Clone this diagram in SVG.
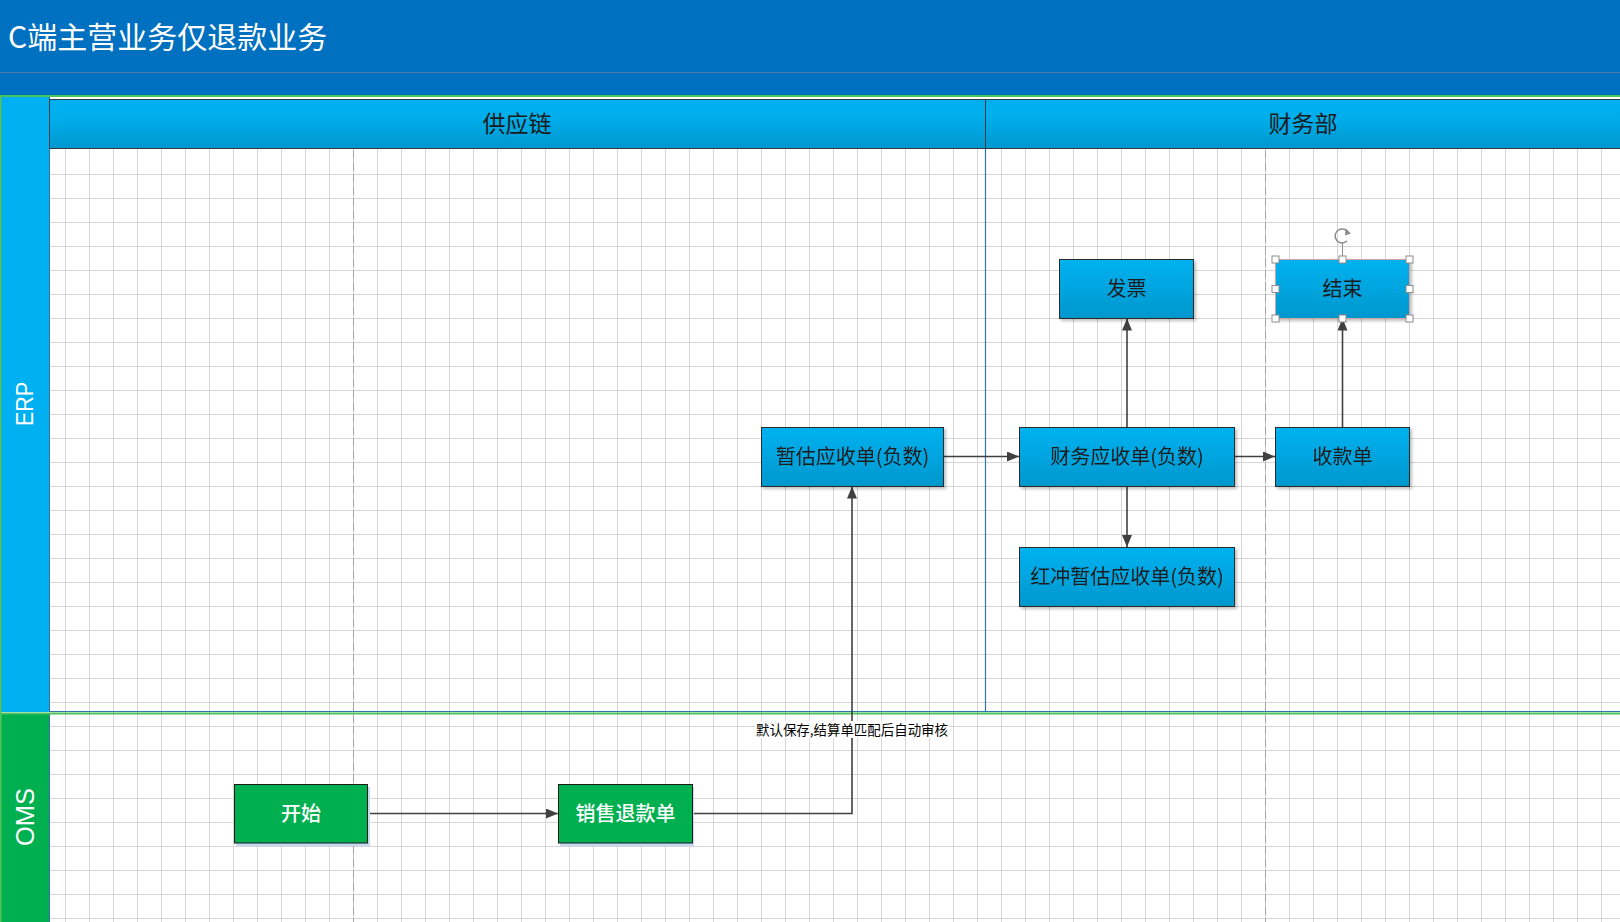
<svg xmlns="http://www.w3.org/2000/svg" width="1620" height="922" viewBox="0 0 1620 922">
<defs>
<style>
.cjk{font-family:"Noto Sans CJK SC","Liberation Sans",sans-serif;}
.lat{font-family:"Liberation Sans","Noto Sans",sans-serif;}
.nodeb{fill:url(#gBlue);stroke:#2b2b2b;stroke-width:1;}
.nodeg{fill:#00B050;stroke:#1a1a1a;stroke-width:1;}
.tb{font-size:20px;fill:#1a1a1a;text-anchor:middle;}
.tg{font-size:20px;fill:#ffffff;text-anchor:middle;font-weight:500;}
.hdr{font-size:23px;fill:#1a1a1a;text-anchor:middle;}
.conn{fill:none;stroke:#404040;stroke-width:1.6;}
.dash{stroke:#a6a6a6;stroke-width:1;stroke-dasharray:9 3;}
.hdl{fill:#ffffff;stroke:#8c8c8c;stroke-width:1;}
.grid{fill:none;stroke:#d6d6d6;stroke-width:1;}
</style>
<linearGradient id="gBlue" x1="0" y1="0" x2="0" y2="1">
<stop offset="0" stop-color="#00B2F0"/>
<stop offset="1" stop-color="#0097CD"/>
</linearGradient>
<linearGradient id="gHdr" x1="0" y1="0" x2="0" y2="1">
<stop offset="0" stop-color="#00B0EE"/>
<stop offset="0.35" stop-color="#00AEEC"/>
<stop offset="1" stop-color="#0098CE"/>
</linearGradient>
<filter id="sh" x="-10%" y="-10%" width="130%" height="140%">
<feDropShadow dx="2" dy="2" stdDeviation="1.5" flood-color="#000000" flood-opacity="0.25"/>
</filter>
<marker id="arr" markerUnits="userSpaceOnUse" markerWidth="12" markerHeight="10" refX="12" refY="5" orient="auto">
<path d="M0,0 L12,5 L0,10 Z" fill="#404040"/>
</marker>
</defs>

<!-- background & grid -->
<rect x="0" y="0" width="1620" height="922" fill="#ffffff"/>
<path class="grid" d="M65.5 149 V922 M89.5 149 V922 M113.5 149 V922 M137.5 149 V922 M161.5 149 V922 M185.5 149 V922 M209.5 149 V922 M233.5 149 V922 M257.5 149 V922 M281.5 149 V922 M305.5 149 V922 M329.5 149 V922 M353.5 149 V922 M377.5 149 V922 M401.5 149 V922 M425.5 149 V922 M449.5 149 V922 M473.5 149 V922 M497.5 149 V922 M521.5 149 V922 M545.5 149 V922 M569.5 149 V922 M593.5 149 V922 M617.5 149 V922 M641.5 149 V922 M665.5 149 V922 M689.5 149 V922 M713.5 149 V922 M737.5 149 V922 M761.5 149 V922 M785.5 149 V922 M809.5 149 V922 M833.5 149 V922 M857.5 149 V922 M881.5 149 V922 M905.5 149 V922 M929.5 149 V922 M953.5 149 V922 M977.5 149 V922 M1001.5 149 V922 M1025.5 149 V922 M1049.5 149 V922 M1073.5 149 V922 M1097.5 149 V922 M1121.5 149 V922 M1145.5 149 V922 M1169.5 149 V922 M1193.5 149 V922 M1217.5 149 V922 M1241.5 149 V922 M1265.5 149 V922 M1289.5 149 V922 M1313.5 149 V922 M1337.5 149 V922 M1361.5 149 V922 M1385.5 149 V922 M1409.5 149 V922 M1433.5 149 V922 M1457.5 149 V922 M1481.5 149 V922 M1505.5 149 V922 M1529.5 149 V922 M1553.5 149 V922 M1577.5 149 V922 M1601.5 149 V922"/>
<path class="grid" d="M49 174.5 H1620 M49 198.5 H1620 M49 222.5 H1620 M49 246.5 H1620 M49 270.5 H1620 M49 294.5 H1620 M49 318.5 H1620 M49 342.5 H1620 M49 366.5 H1620 M49 390.5 H1620 M49 414.5 H1620 M49 438.5 H1620 M49 462.5 H1620 M49 486.5 H1620 M49 510.5 H1620 M49 534.5 H1620 M49 558.5 H1620 M49 582.5 H1620 M49 606.5 H1620 M49 630.5 H1620 M49 654.5 H1620 M49 678.5 H1620 M49 702.5 H1620 M49 726.5 H1620 M49 750.5 H1620 M49 774.5 H1620 M49 798.5 H1620 M49 822.5 H1620 M49 846.5 H1620 M49 870.5 H1620 M49 894.5 H1620 M49 918.5 H1620"/>

<!-- title band -->
<g id="title">
<rect x="0" y="0" width="1620" height="96" fill="#0070C0"/>
<line x1="0" y1="72.5" x2="1620" y2="72.5" stroke="#4a78a8" stroke-width="1"/>
<text x="8" y="48" class="cjk" font-size="30" fill="#ffffff">C端主营业务仅退款业务</text>
</g>

<!-- lanes -->
<g id="lane-erp">
<rect x="1" y="97" width="48" height="615" fill="#00B0F0"/>
<line x1="49.5" y1="97" x2="49.5" y2="712" stroke="#3a6e9e" stroke-width="1"/>
<text class="lat" transform="translate(33,404) rotate(-90)" font-size="24" fill="#ffffff" text-anchor="middle" textLength="44" lengthAdjust="spacingAndGlyphs">ERP</text>
</g>
<g id="lane-oms">
<rect x="1" y="714" width="48" height="208" fill="#00B050"/>
<line x1="49.5" y1="714" x2="49.5" y2="922" stroke="#3a6e9e" stroke-width="1"/>
<text class="lat" transform="translate(34,817) rotate(-90)" font-size="26" fill="#ffffff" text-anchor="middle" textLength="58" lengthAdjust="spacingAndGlyphs">OMS</text>
</g>
<line x1="0" y1="96" x2="1620" y2="96" stroke="#4CC25B" stroke-width="2"/>
<line x1="0.8" y1="96" x2="0.8" y2="922" stroke="#4CC25B" stroke-width="1.5"/>
<line x1="49" y1="711.5" x2="1620" y2="711.5" stroke="#2E75B6" stroke-width="1"/>
<line x1="0" y1="713.5" x2="1620" y2="713.5" stroke="#4CC25B" stroke-width="2"/>

<!-- column headers -->
<g id="col-supply">
<rect x="49.5" y="99.5" width="936" height="49" fill="url(#gHdr)" stroke="#2b3a44" stroke-width="1"/>
<text x="517" y="132" class="cjk hdr">供应链</text>
</g>
<g id="col-finance">
<rect x="985.5" y="99.5" width="640" height="49" fill="url(#gHdr)" stroke="#2b3a44" stroke-width="1"/>
<text x="1303" y="132" class="cjk hdr">财务部</text>
</g>
<line x1="985.5" y1="149" x2="985.5" y2="712" stroke="#2E75B6" stroke-width="1.2"/>
<line x1="353.5" y1="150" x2="353.5" y2="922" class="dash"/>
<line x1="1265.5" y1="150" x2="1265.5" y2="922" class="dash"/>

<!-- connectors -->
<g id="connectors">
<path class="conn" d="M368,813.5 H558" marker-end="url(#arr)"/>
<path class="conn" d="M692,813.5 H852 V486.5" marker-end="url(#arr)"/>
<rect x="755" y="721" width="194" height="17" fill="#ffffff"/>
<text x="852" y="734.5" class="cjk" font-size="14" fill="#000000" text-anchor="middle" textLength="192" lengthAdjust="spacingAndGlyphs">默认保存,结算单匹配后自动审核</text>
<path class="conn" d="M944,456.5 H1019" marker-end="url(#arr)"/>
<path class="conn" d="M1127,427 V318.5" marker-end="url(#arr)"/>
<path class="conn" d="M1127,486 V547" marker-end="url(#arr)"/>
<path class="conn" d="M1234,456.5 H1275" marker-end="url(#arr)"/>
<path class="conn" d="M1342.5,427 V318.5" marker-end="url(#arr)"/>
</g>

<!-- nodes -->
<g id="n-start">
<rect x="236" y="787" width="134" height="59" fill="#c6d9f0"/>
<rect x="234.5" y="784.5" width="133" height="58.5" class="nodeg"/>
<text x="301" y="820.5" class="cjk tg">开始</text>
</g>
<g id="n-refund">
<rect x="560" y="787" width="134" height="59" fill="#c6d9f0"/>
<rect x="558.5" y="784.5" width="134" height="58.5" class="nodeg"/>
<text x="625.5" y="820.5" class="cjk tg">销售退款单</text>
</g>
<g id="n-est" filter="url(#sh)">
<rect x="761.5" y="427.5" width="182" height="59" class="nodeb"/>
<text x="852.5" y="463.5" class="cjk tb">暂估应收单(负数)</text>
</g>
<g id="n-fin" filter="url(#sh)">
<rect x="1019.5" y="427.5" width="215" height="59" class="nodeb"/>
<text x="1127" y="463.5" class="cjk tb">财务应收单(负数)</text>
</g>
<g id="n-red" filter="url(#sh)">
<rect x="1019.5" y="547.5" width="215" height="59" class="nodeb"/>
<text x="1127" y="583.5" class="cjk tb">红冲暂估应收单(负数)</text>
</g>
<g id="n-invoice" filter="url(#sh)">
<rect x="1059.5" y="259.5" width="134" height="59" class="nodeb"/>
<text x="1126.5" y="295.5" class="cjk tb">发票</text>
</g>
<g id="n-receipt" filter="url(#sh)">
<rect x="1275.5" y="427.5" width="134" height="59" class="nodeb"/>
<text x="1342.5" y="463.5" class="cjk tb">收款单</text>
</g>
<g id="n-end">
<g filter="url(#sh)">
<rect x="1275.5" y="259.5" width="134" height="59" fill="url(#gBlue)" stroke="#d9a0a0" stroke-width="1"/>
</g>
<text x="1342.5" y="295.5" class="cjk tb">结束</text>
<line x1="1342.5" y1="243" x2="1342.5" y2="256" stroke="#8c8c8c" stroke-width="1"/>
<path d="M1348.5,233 A7,7 0 1 0 1347,241" fill="none" stroke="#8c8c8c" stroke-width="1.5"/>
<path d="M1345.5,228.5 L1351,233.5 L1345,235.5 Z" fill="#8c8c8c"/>
<rect x="1272" y="256" width="7" height="7" class="hdl"/>
<rect x="1339" y="256" width="7" height="7" class="hdl"/>
<rect x="1406" y="256" width="7" height="7" class="hdl"/>
<rect x="1272" y="285.5" width="7" height="7" class="hdl"/>
<rect x="1406" y="285.5" width="7" height="7" class="hdl"/>
<rect x="1272" y="315" width="7" height="7" class="hdl"/>
<rect x="1339" y="315" width="7" height="7" class="hdl"/>
<rect x="1406" y="315" width="7" height="7" class="hdl"/>
</g>
</svg>
